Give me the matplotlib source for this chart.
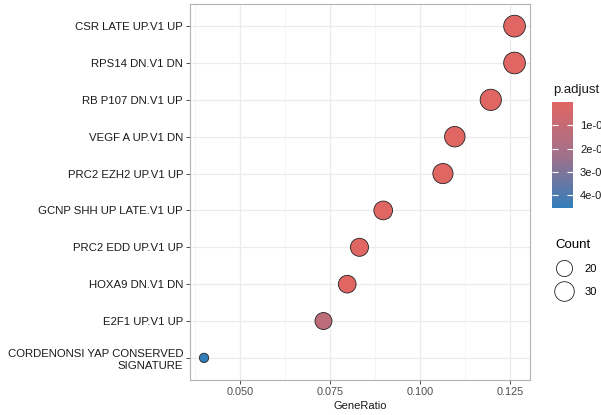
import numpy as np
import matplotlib
matplotlib.use('Agg')
import matplotlib.pyplot as plt
import matplotlib.colors as colors
from matplotlib.lines import Line2D

plt.rcParams['font.family'] = ['Liberation Sans', 'DejaVu Sans']

# %% data
terms = ['CSR LATE UP.V1 UP', 'RPS14 DN.V1 DN', 'RB P107 DN.V1 UP',
         'VEGF A UP.V1 DN', 'PRC2 EZH2 UP.V1 UP', 'GCNP SHH UP LATE.V1 UP',
         'PRC2 EDD UP.V1 UP', 'HOXA9 DN.V1 DN', 'E2F1 UP.V1 UP',
         'CORDENONSI YAP CONSERVED\nSIGNATURE']
gene_ratio = [0.1262, 0.1262, 0.1196, 0.1096, 0.1063, 0.0897, 0.0831, 0.0797, 0.0731, 0.0399]
counts = [38, 38, 36, 33, 32, 27, 25, 24, 22, 12]
p_adjust = [3e-08, 3e-08, 4e-08, 5e-08, 6e-08, 1e-07, 1.5e-07, 2e-07, 1.3e-05, 4.55e-05]

cbar_ticks = [1e-05, 2e-05, 3e-05, 4e-05]
cbar_labels = ['1e-05', '2e-05', '3e-05', '4e-05']
size_breaks = [20, 30]
x_ticks = [0.050, 0.075, 0.100, 0.125]

# %% styling helpers
cmap = colors.LinearSegmentedColormap.from_list('padj', ['#e06663', '#a2718b', '#327eba'])
norm = colors.Normalize(vmin=min(p_adjust), vmax=max(p_adjust))

cmin, cmax = min(counts), max(counts)
def dot_diam(c):
    # diameter in points, sqrt-area scaling like ggplot's scale_size
    px = 9.3 + 12.4 * np.sqrt((c - cmin) / (cmax - cmin))
    return px * 0.72

# %% plot
fig = plt.figure(figsize=(6.01, 4.15), dpi=100)
ax = fig.add_axes([190/601, 35/415, 340/601, 376/415])

ypos = np.arange(len(terms))[::-1]
ax.scatter(gene_ratio, ypos, s=[dot_diam(c)**2 for c in counts],
           c=p_adjust, cmap=cmap, norm=norm, edgecolors='#222222', linewidths=0.6, zorder=3)

ax.set_xlim(0.0360, 0.1305)
ax.set_ylim(-0.6, len(terms) - 0.4)
ax.set_yticks(ypos)
ax.set_yticklabels(terms, fontsize=8.2, color='#1a1a1a', linespacing=1.25)
ax.set_xticks(x_ticks)
ax.set_xticklabels(['%.3f' % t for t in x_ticks], fontsize=7.8, color='#4d4d4d')
ax.set_xticks([0.0375, 0.0625, 0.0875, 0.1125], minor=True)
ax.tick_params(axis='both', which='major', length=3, width=0.6, color='#333333', pad=2)
ax.tick_params(axis='x', which='minor', length=0)
ax.grid(True, which='major', color='#ebebeb', linewidth=0.9, zorder=0)
ax.grid(True, which='minor', axis='x', color='#f2f2f2', linewidth=0.5, zorder=0)
ax.set_axisbelow(True)
for sp in ax.spines.values():
    sp.set_color('#b3b3b3')
    sp.set_linewidth(0.8)
ax.set_xlabel('GeneRatio', fontsize=8, color='#1a1a1a', labelpad=3)

# colour bar legend (small values on top)
cax = fig.add_axes([552/601, (415-208)/415, 21/601, 106/415])
sm = plt.cm.ScalarMappable(norm=norm, cmap=cmap)
cb = fig.colorbar(sm, cax=cax)
cb.outline.set_visible(False)
cb.set_ticks(cbar_ticks)
cb.set_ticklabels(cbar_labels)
cax.invert_yaxis()
cax.tick_params(direction='in', color='white', length=4, width=0.8,
                left=True, right=True, labelsize=8, labelcolor='#1a1a1a', pad=5)
fig.text(553/601, 1 - 90/415, 'p.adjust', fontsize=9.5, color='#1a1a1a', va='center')

# size legend
handles = [Line2D([], [], marker='o', linestyle='', markerfacecolor='white',
                  markeredgecolor='#222222', markeredgewidth=0.6, markersize=dot_diam(b))
           for b in size_breaks]
leg = fig.legend(handles, [str(b) for b in size_breaks], title='Count',
                 loc='upper left', bbox_to_anchor=(551/601, 1 - 235/415),
                 frameon=False, fontsize=8, title_fontsize=9.5,
                 handletextpad=1.0, labelspacing=1.15, borderaxespad=0, handlelength=1.6)
leg._legend_box.align = 'left'

fig.savefig('out.png', dpi=100)
